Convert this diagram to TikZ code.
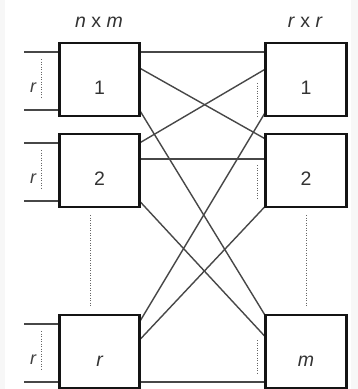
\documentclass[tikz,border=0pt]{standalone}
\usepackage{fontspec}
\setmainfont{Liberation Sans}
\begin{document}
\begin{tikzpicture}[x=1pt,y=-1pt,
  box/.style={draw=black!92,line width=2.4pt,minimum height=73pt,inner sep=0pt,outer sep=0pt,anchor=north west},
  lbox/.style={box,minimum width=80pt},
  rbox/.style={box,minimum width=81pt},
  wire/.style={draw=black!72,line width=1.4pt},
  dots/.style={draw=black!60,line width=1pt,dash pattern=on 1pt off 1.5pt},
  txt/.style={font=\fontsize{19.5}{22}\selectfont,text=black!80},
  rl/.style={font=\fontsize{18}{20}\selectfont\itshape,text=black!75}]
\fill[black!3] (0,0) rectangle (358,389);
\fill[white] (5,0) rectangle (351,389);
\useasboundingbox (0,0) rectangle (358,389);

% titles
\node[txt] (t1) at (99,22) {\itshape n\/\upshape\ x \itshape m};
\node[txt] (t2) at (305,22) {\itshape r\/\upshape\ x \itshape r};

\coordinate (L1) at (59.5,43);
\coordinate (L2) at (59.5,134);
\coordinate (L3) at (59.5,315);
\coordinate (R1) at (265.5,43);
\coordinate (R2) at (265.5,134);
\coordinate (R3) at (265.5,315);

\node[lbox, label={[txt,yshift=-8pt]center:1}] (B1) at (L1) {};
\node[lbox, label={[txt,yshift=-8pt]center:2}] (B2) at (L2) {};
\node[lbox, label={[txt,yshift=-10pt]center:\itshape r}] (B3) at (L3) {};
\node[rbox, label={[txt,yshift=-8pt]center:1}] (C1) at (R1) {};
\node[rbox, label={[txt,yshift=-8pt]center:2}] (C2) at (R2) {};
\node[rbox, label={[txt,yshift=-10pt]center:\itshape m}] (C3) at (R3) {};

% crossing connections
\draw[wire] ([yshift=-9pt]B1.north east) -- ([yshift=-9pt]C1.north west);
\draw[wire] ([yshift=-25pt]B1.north east) -- ([yshift=-5pt]C2.north west);
\draw[wire] ([yshift=-67pt]B1.north east) -- ([yshift=-1pt]C3.north west);
\draw[wire] ([yshift=-9pt]B2.north east) -- ([yshift=-26pt]C1.north west);
\draw[wire] ([yshift=-25pt]B2.north east) -- ([yshift=-25pt]C2.north west);
\draw[wire] ([yshift=-67pt]B2.north east) -- ([yshift=-22pt]C3.north west);
\draw[wire] ([yshift=-7pt]B3.north east) -- ([yshift=-69pt]C1.north west);
\draw[wire] ([yshift=-25pt]B3.north east) -- ([yshift=-72pt]C2.north west);
\draw[wire] ([yshift=-67pt]B3.north east) -- ([yshift=-67pt]C3.north west);

% input lines
\foreach \b/\t in {B1/43,B2/134,B3/315}{
  \coordinate (u\b) at (24,\t+9);
  \coordinate (d\b) at (24,\t+67);
  \draw[wire] (u\b) -- (u\b -| \b.west);
  \draw[wire] (d\b) -- (d\b -| \b.west);
  \draw[dots] (41,\t+16) -- (41,\t+56);
  \node[rl] (r\b) at (33,\t+45) {r};
}

% right-side inner dotted lines
\draw[dots] (257,83) -- (257,117);
\draw[dots] (257,165) -- (257,200);
\draw[dots] (257,340) -- (257,373);

% vertical dotted between boxes
\draw[dots] (90.5,215) -- (90.5,307);
\draw[dots] (306.5,215) -- (306.5,307);

% redraw box borders on top of wire ends
\foreach \n in {B1,B2,B3,C1,C2,C3}{
  \draw[draw=black!92,line width=2.4pt] (\n.north west) rectangle (\n.south east);
}
\end{tikzpicture}
\end{document}
